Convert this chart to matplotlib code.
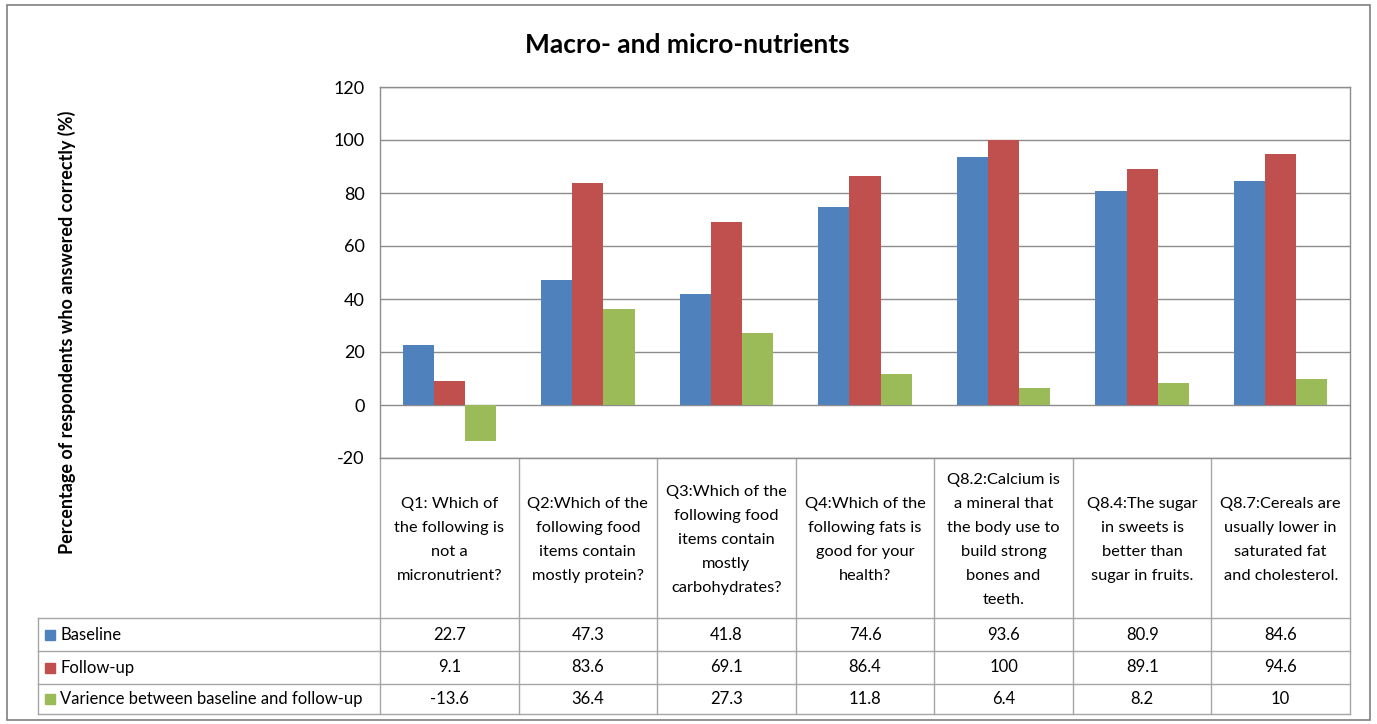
import matplotlib.pyplot as plt
import numpy as np

plt.rcParams['font.family'] = ['Lato', 'DejaVu Sans']

questions = [
    "Q1: Which of\nthe following is\nnot a\nmicronutrient?",
    "Q2:Which of the\nfollowing food\nitems contain\nmostly protein?",
    "Q3:Which of the\nfollowing food\nitems contain\nmostly\ncarbohydrates?",
    "Q4:Which of the\nfollowing fats is\ngood for your\nhealth?",
    "Q8.2:Calcium is\na mineral that\nthe body use to\nbuild strong\nbones and\nteeth.",
    "Q8.4:The sugar\nin sweets is\nbetter than\nsugar in fruits.",
    "Q8.7:Cereals are\nusually lower in\nsaturated fat\nand cholesterol.",
]
baseline = [22.7, 47.3, 41.8, 74.6, 93.6, 80.9, 84.6]
follow_up = [9.1, 83.6, 69.1, 86.4, 100, 89.1, 94.6]
variance = [-13.6, 36.4, 27.3, 11.8, 6.4, 8.2, 10]
series_names = ["Baseline", "Follow-up", "Varience between baseline and follow-up"]
colors = ["#4F81BD", "#C0504D", "#9BBB59"]
yticks = [-20, 0, 20, 40, 60, 80, 100, 120]

W, H = 1377, 724
grid_c = "#8C8C8C"
line_c = "#A6A6A6"
txt_c = "#000000"

fig = plt.figure(figsize=(W / 100, H / 100), dpi=100)

# pixel-space layer for the frame, title and data table
bg = fig.add_axes([0, 0, 1, 1])
bg.set_xlim(0, W)
bg.set_ylim(H, 0)
bg.axis("off")

# plot area in pixels
px0, px1 = 380, 1350
py0, py1 = 87, 458
ax = fig.add_axes([px0 / W, 1 - py1 / H, (px1 - px0) / W, (py1 - py0) / H])

n = len(questions)
x = np.arange(n)
w = 0.225
for i, vals in enumerate([baseline, follow_up, variance]):
    ax.bar(x + (i - 1) * w, vals, w, color=colors[i], zorder=3)

ax.set_xlim(-0.5, n - 0.5)
ax.set_ylim(-20, 120)
ax.set_yticks(yticks)
ax.set_yticklabels([str(t) for t in yticks], fontsize=13)
ax.tick_params(axis="y", length=0, pad=11)
ax.set_xticks([])
ax.grid(axis="y", color=grid_c, linewidth=1, zorder=0)
for s in ax.spines.values():
    s.set_color(grid_c)
    s.set_linewidth(1)

# chart frame and title
bg.add_patch(plt.Rectangle((7, 5), 1363, 715, fill=False, edgecolor="#7F7F7F", linewidth=1.2))
bg.text(687, 45, "Macro- and micro-nutrients", fontsize=19, fontweight="bold",
        ha="center", va="center", color=txt_c)
bg.text(67, 332, "Percentage of respondents who answered correctly (%)", fontsize=13,
        fontweight="bold", rotation=90, ha="center", va="center", color=txt_c)

# data table below the plot
col_w = (px1 - px0) / n
rows_y = [458, 618, 651, 684, 714]
tab_left = 38
for k in range(n + 1):
    xx = px0 + k * col_w
    bg.plot([xx, xx], [rows_y[0], rows_y[-1]], color=line_c, lw=1)
for yy in rows_y[1:]:
    bg.plot([tab_left, px1], [yy, yy], color=line_c, lw=1)
bg.plot([tab_left, tab_left], [rows_y[1], rows_y[-1]], color=line_c, lw=1)

for k, q in enumerate(questions):
    cx = px0 + (k + 0.5) * col_w
    bg.text(cx, (rows_y[0] + rows_y[1]) / 2 + 2, q, fontsize=11.8, ha="center",
            va="center", linespacing=1.9, color=txt_c)

for r, vals in enumerate([baseline, follow_up, variance]):
    cy = (rows_y[r + 1] + rows_y[r + 2]) / 2
    bg.add_patch(plt.Rectangle((45, cy - 5), 10, 10, color=colors[r]))
    bg.text(60, cy, series_names[r], fontsize=12, ha="left", va="center", color=txt_c)
    for k, v in enumerate(vals):
        bg.text(px0 + (k + 0.5) * col_w, cy, f"{v:g}", fontsize=12,
                ha="center", va="center", color=txt_c)

fig.savefig("out.png", dpi=100)
